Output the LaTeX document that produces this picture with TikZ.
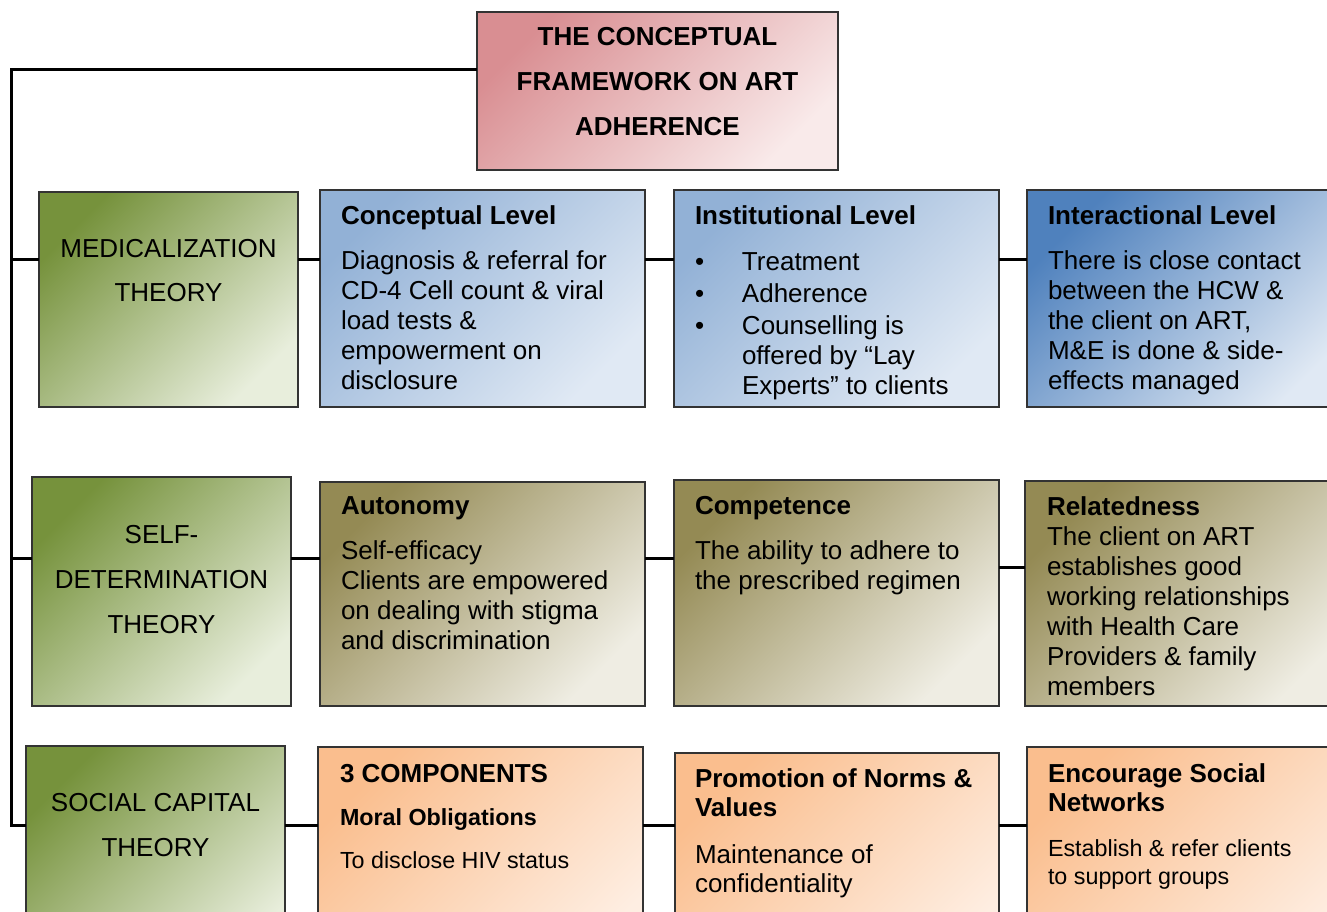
\documentclass[tikz,border=0pt]{standalone}
\usepackage{fontspec}
\setmainfont{Liberation Sans}
\definecolor{pinkA}{RGB}{217,142,146}
\definecolor{pinkB}{RGB}{249,234,234}
\definecolor{greenA}{RGB}{118,146,60}
\definecolor{greenB}{RGB}{232,238,220}
\definecolor{blueA}{RGB}{146,177,214}
\definecolor{blueB}{RGB}{224,233,244}
\definecolor{blueC}{RGB}{79,129,189}
\definecolor{oliveA}{RGB}{148,138,84}
\definecolor{oliveB}{RGB}{239,237,227}
\definecolor{orangeA}{RGB}{250,190,142}
\definecolor{orangeB}{RGB}{254,238,226}
\newcommand\smalltxt{\fontsize{23.3}{30}\selectfont}
\tikzset{
  box/.style={draw=black!80, line width=1.3pt, rectangle, inner sep=0pt, outer sep=0pt, anchor=north west},
  pinkbox/.style={box, top color=pinkA, bottom color=pinkB, shading angle=45},
  greenbox/.style={box, top color=greenA, bottom color=greenB, shading angle=45},
  bluebox/.style={box, top color=blueA, bottom color=blueB, shading angle=45},
  darkbluebox/.style={box, top color=blueC, bottom color=blueB, shading angle=45},
  olivebox/.style={box, top color=oliveA, bottom color=oliveB, shading angle=45},
  orangebox/.style={box, top color=orangeA, bottom color=orangeB, shading angle=45},
  txt/.style={anchor=north west, inner sep=0pt, outer sep=0pt, align=left, font=\fontsize{26}{30}\selectfont},
  ctxt/.style={txt, anchor=north, align=center},
  link/.style={line width=3pt}
}
\begin{document}
\begin{tikzpicture}[x=1pt, y=-1pt]
    \useasboundingbox (0,0) rectangle (1327,911);
    \clip (0,0) rectangle (1327,911);

    \node[pinkbox, minimum width=361pt, minimum height=158pt] (title) at (477,12) {};

    \node[greenbox, minimum width=259pt, minimum height=215pt] (med) at (39,192) {};
    \node[greenbox, minimum width=259pt, minimum height=229pt] (sdt) at (32,477) {};
    \node[greenbox, minimum width=259pt, minimum height=230pt] (sct) at (26,746) {};

    \node[bluebox, minimum width=325pt, minimum height=217pt] (conc) at (320,190) {};
    \node[bluebox, minimum width=325pt, minimum height=217pt] (inst) at (674,190) {};
    \node[darkbluebox, minimum width=330pt, minimum height=217pt] (inter) at (1027,190) {};

    \node[olivebox, minimum width=325pt, minimum height=224pt] (auto) at (320,482) {};
    \node[olivebox, minimum width=325pt, minimum height=226pt] (comp) at (674,480) {};
    \node[olivebox, minimum width=330pt, minimum height=225pt] (rel) at (1025,481) {};

    \node[orangebox, minimum width=325pt, minimum height=230pt] (comps) at (318,747) {};
    \node[orangebox, minimum width=324pt, minimum height=230pt] (prom) at (675,753) {};
    \node[orangebox, minimum width=330pt, minimum height=230pt] (enc) at (1027,747) {};

    \coordinate (top) at (11,69);
    \coordinate (r1) at (11,259);
    \coordinate (r2) at (11,558);
    \coordinate (r2b) at (11,567);
    \coordinate (r3) at (11,825);

    \draw[link] (title.west |- top) -- (top) -- (r3) -- (sct.west |- r3);
    \draw[link] (r1) -- (med.west |- r1);
    \draw[link] (r2) -- (sdt.west |- r2);
    \foreach \a/\b/\r in {med/conc/r1, conc/inst/r1, inst/inter/r1, sdt/auto/r2, auto/comp/r2, comp/rel/r2b, sct/comps/r3, comps/prom/r3, prom/enc/r3}{
        \draw[link] (\a.east |- \r) -- (\b.west |- \r);
    }

    \node[ctxt, font=\fontsize{26}{30}\selectfont\bfseries] (titletxt) at ([yshift=-15pt]title.north)
        {THE CONCEPTUAL\\[15pt]FRAMEWORK ON ART\\[15pt]ADHERENCE};

    \node[ctxt] (medtxt) at ([yshift=-47pt]med.north) {MEDICALIZATION\\[14pt]THEORY};
    \node[ctxt] (sdttxt) at ([yshift=-48pt]sdt.north) {SELF-\\[15pt]DETERMINATION\\[15pt]THEORY};
    \node[ctxt] (scttxt) at ([yshift=-47pt]sct.north) {SOCIAL CAPITAL\\[15pt]THEORY};

    \node[txt] (conctxt) at ([shift={(21pt,-16pt)}]conc.north west)
        {\textbf{Conceptual Level}\\[15pt]Diagnosis \& referral for\\CD-4 Cell count \& viral\\load tests \&\\empowerment on\\disclosure};
    \node[txt] (insttxt) at ([shift={(21pt,-16pt)}]inst.north west)
        {\textbf{Institutional Level}\\[16pt]\makebox[47pt][l]{\textbullet}Treatment\\[2pt]\makebox[47pt][l]{\textbullet}Adherence\\[2pt]\makebox[47pt][l]{\textbullet}Counselling is\\\hspace*{47pt}offered by “Lay\\\hspace*{47pt}Experts” to clients};
    \node[txt] (intertxt) at ([shift={(21pt,-16pt)}]inter.north west)
        {\textbf{Interactional Level}\\[15pt]There is close contact\\between the HCW \&\\the client on ART,\\M\&E is done \& side-\\effects managed};

    \node[txt] (autotxt) at ([shift={(21pt,-15pt)}]auto.north west)
        {\textbf{Autonomy}\\[15pt]Self-efficacy\\Clients are empowered\\on dealing with stigma\\and discrimination};
    \node[txt] (comptxt) at ([shift={(21pt,-16pt)}]comp.north west)
        {\textbf{Competence}\\[15pt]The ability to adhere to\\the prescribed regimen};
    \node[txt] (reltxt) at ([shift={(22pt,-16pt)}]rel.north west)
        {\textbf{Relatedness}\\The client on ART\\establishes good\\working relationships\\with Health Care\\Providers \& family\\members};

    \node[txt] (compstxt) at ([shift={(22pt,-17pt)}]comps.north west)
        {\textbf{3 COMPONENTS}\\[13pt]{\smalltxt\textbf{Moral Obligations}}\\[13pt]{\smalltxt To disclose HIV status}};
    \node[txt] (promtxt) at ([shift={(20pt,-16pt)}]prom.north west)
        {\textbf{Promotion of Norms \&}\\[-1pt]\textbf{Values}\\[17pt]Maintenance of\\[-1pt]confidentiality};
    \node[txt] (enctxt) at ([shift={(21pt,-17pt)}]enc.north west)
        {\textbf{Encourage Social}\\[-1pt]\textbf{Networks}\\[15pt]{\smalltxt Establish \& refer clients}\\[-2pt]{\smalltxt to support groups}};
\end{tikzpicture}
\end{document}
